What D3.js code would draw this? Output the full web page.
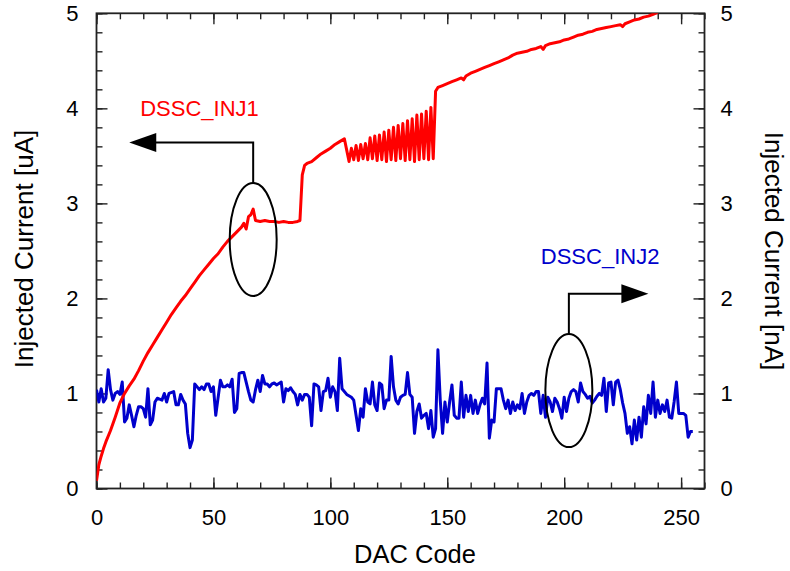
<!DOCTYPE html>
<html>
<head>
<meta charset="utf-8">
<script src="https://cdn.jsdelivr.net/npm/d3@7"></script>
<style>
  body { margin: 0; background: #fff; }
  svg text { font-family: "Liberation Sans", Arial, sans-serif; }
</style>
</head>
<body>
<div id="chart"></div>
<script>
// DSSC_INJ1 (uA, left axis)
const redCodes = [0,1,2,3,4,6,8,10,12,14,16,18,20,22,24,26,28,30,32,34,36,38,40,42,44,46,48,50,52,54,56,58,60,62,63,64,65,66,67,68,70,72,74,76,78,80,82,84,86,87,88,89,90,92,94,96,98,100,102,104,106,
  107,108,109,110,111,112,113,114,115,116,117,118,119,120,121,122,123,124,125,126,127,128,129,130,131,132,133,134,135,136,137,138,139,140,141,142,143,144,145,146,
  148,150,152,154,156,157,158,160,162,164,166,168,170,172,174,176,178,180,182,184,186,188,190,191,192,194,196,198,200,202,204,206,208,210,212,214,216,218,220,222,224,225,226,228,230,232,234,236,238,240];
const redValues = [0.08,0.25,0.34,0.42,0.49,0.61,0.75,0.90,1.00,1.08,1.15,1.24,1.34,1.43,1.51,1.59,1.67,1.75,1.83,1.90,1.97,2.03,2.10,2.17,2.24,2.30,2.36,2.42,2.47,2.54,2.60,2.65,2.70,2.75,2.79,2.73,2.86,2.88,2.94,2.82,2.81,2.82,2.81,2.81,2.80,2.81,2.80,2.80,2.81,2.82,3.30,3.40,3.42,3.44,3.48,3.52,3.55,3.58,3.62,3.65,3.68,
  3.56,3.44,3.58,3.46,3.61,3.45,3.62,3.47,3.63,3.46,3.69,3.47,3.71,3.45,3.72,3.46,3.75,3.44,3.77,3.46,3.80,3.45,3.82,3.47,3.84,3.45,3.87,3.46,3.89,3.44,3.93,3.46,3.94,3.47,3.97,3.46,4.01,3.47,4.18,4.22,
  4.24,4.26,4.28,4.30,4.32,4.30,4.34,4.37,4.39,4.41,4.43,4.45,4.47,4.49,4.51,4.53,4.56,4.58,4.59,4.60,4.62,4.63,4.65,4.62,4.66,4.68,4.69,4.70,4.72,4.73,4.75,4.77,4.78,4.80,4.81,4.83,4.84,4.85,4.86,4.87,4.88,4.86,4.89,4.91,4.93,4.94,4.96,4.97,4.99,5.01];

// DSSC_INJ2 (nA, right axis)
const blueCodes = [0,1,2,3,4,5,6,7,8,9,10,11,12,13,14,15,16,17,18,19,20,21,22,23,24,25,26,27,28,29,30,31,33,34,35,36,37,38,39,40,41,42,44,45,46,47,48,49,50,51,53,54,55,56,57,58,59,60,61,62,63,65,66,67,68,69,70,71,72,73,74,75,76,77,79,80,81,82,83,84,85,86,87,88,89,90,91,92,93,94,95,96,97,98,99,
  100,101,102,103,104,105,107,109,110,111,112,113,114,115,116,117,118,119,120,121,122,123,124,125,126,127,128,129,130,131,132,133,134,135,136,137,138,139,140,141,142,143,144,145,146,147,148,149,150,151,152,153,154,155,156,157,158,159,160,161,162,163,164,165,
  166,167,168,169,170,171,173,174,175,176,177,178,179,180,181,182,183,184,185,186,187,188,189,190,191,192,193,194,195,196,197,198,199,200,201,202,203,204,205,206,207,208,209,210,
  211,212,213,214,215,216,217,218,219,220,221,222,223,224,225,226,227,228,229,230,231,232,233,234,235,236,237,238,239,240,241,242,243,244,245,246,247,248,249,250,251,252,253,254,255];
const blueValues = [1.04,0.91,1.05,0.91,0.95,1.25,1.04,0.93,1.00,1.02,0.99,1.12,0.70,0.74,0.88,0.77,0.65,0.77,0.86,0.86,0.84,0.75,1.05,0.67,0.72,0.91,0.95,0.94,0.93,1.00,0.91,1.00,1.02,0.88,0.88,0.99,0.93,0.89,0.58,0.43,0.51,1.10,1.04,1.07,1.04,1.10,1.10,1.02,1.07,0.77,1.14,1.07,1.07,1.09,1.07,1.15,0.80,0.84,1.21,1.22,1.22,1.02,0.93,0.91,1.04,1.14,1.02,1.19,1.10,1.10,1.07,1.10,1.11,1.09,1.12,0.91,1.05,1.03,1.06,1.02,0.99,0.88,0.99,0.93,0.99,0.99,0.96,0.66,1.10,1.09,1.07,0.82,1.02,1.03,1.16,
  0.96,1.07,1.02,0.82,1.37,1.05,0.99,0.96,0.93,0.77,0.61,0.84,0.75,1.05,0.91,0.89,1.12,0.88,0.82,1.11,1.09,0.84,0.93,0.93,1.39,1.07,0.93,0.89,0.96,0.98,0.99,1.22,0.99,0.96,0.58,0.81,0.89,0.74,0.77,0.79,0.63,0.82,0.54,0.63,1.46,0.93,0.58,0.91,0.70,0.91,1.09,0.77,0.74,0.74,1.12,0.75,0.98,0.81,0.98,0.79,0.93,0.79,0.88,0.95,
  0.89,1.32,0.53,0.72,0.70,1.05,1.05,0.93,0.84,0.93,0.79,0.91,0.82,0.88,0.84,1.00,0.79,0.91,0.98,1.00,0.98,1.02,1.02,0.79,0.98,0.75,0.96,0.91,0.81,0.95,0.91,0.84,0.74,0.96,0.81,0.95,1.02,1.04,1.02,0.91,1.11,1.02,0.99,0.95,
  0.97,0.90,0.93,0.97,1.00,0.98,1.16,0.81,1.11,1.12,0.88,1.12,1.14,1.04,0.90,0.79,0.58,0.65,0.47,0.72,0.51,0.75,0.54,0.86,0.68,0.98,0.79,1.12,0.75,0.93,0.79,0.88,0.81,0.93,0.75,0.74,0.91,1.12,0.79,0.79,0.79,0.77,0.54,0.60,0.60];

const xMajorTicks = [0, 50, 100, 150, 200, 250];
const yMajorTicks = [0, 1, 2, 3, 4, 5];

const width = 790, height = 571;
const margin = { top: 13.3, right: 85.5, bottom: 82.5, left: 96.5 };
const innerWidth = width - margin.left - margin.right;
const innerHeight = height - margin.top - margin.bottom;

const svg = d3.select("#chart").append("svg")
  .attr("width", width)
  .attr("height", height);

const g = svg.append("g")
  .attr("transform", `translate(${margin.left},${margin.top})`);

const x = d3.scaleLinear().domain([0, 260]).range([0, innerWidth]);
const y = d3.scaleLinear().domain([0, 5]).range([innerHeight, 0]);
const yR = d3.scaleLinear().domain([0, 5]).range([innerHeight, 0]);

const minorX = d3.range(0, 261, 10);
const minorY = d3.range(0, 5.01, 0.2);
const fmt = d3.format("d");

// tick-only axes (minor everywhere, major on top), pointing inward
function tickOnly(axis, transform) {
  const a = g.append("g");
  if (transform) a.attr("transform", transform);
  a.call(axis);
  a.selectAll("text").remove();
}
tickOnly(d3.axisBottom(x).tickValues(minorX).tickSize(-6), `translate(0,${innerHeight})`);
tickOnly(d3.axisTop(x).tickValues(minorX).tickSize(-6));
tickOnly(d3.axisLeft(y).tickValues(minorY).tickSize(-6));
tickOnly(d3.axisRight(yR).tickValues(minorY).tickSize(-6), `translate(${innerWidth},0)`);
tickOnly(d3.axisTop(x).tickValues(xMajorTicks).tickSize(-11));

// major ticks + labels
function labelAxis(axis, transform) {
  const a = g.append("g");
  if (transform) a.attr("transform", transform);
  a.call(axis)
    .attr("font-size", 22)
    .attr("font-family", "'Liberation Sans', Arial, sans-serif");
  a.selectAll("text").attr("fill", "#000");
}
labelAxis(d3.axisBottom(x).tickValues(xMajorTicks).tickSize(-11).tickPadding(21).tickFormat(fmt),
  `translate(0,${innerHeight})`);
labelAxis(d3.axisLeft(y).tickValues(yMajorTicks).tickSize(-11).tickPadding(18).tickFormat(fmt));
labelAxis(d3.axisRight(yR).tickValues(yMajorTicks).tickSize(-11).tickPadding(16).tickFormat(fmt),
  `translate(${innerWidth},0)`);

g.selectAll(".domain").remove();
g.selectAll(".tick line").attr("stroke", "#222").attr("stroke-width", 1.4);

// frame
g.append("rect")
  .attr("width", innerWidth)
  .attr("height", innerHeight)
  .attr("fill", "none")
  .attr("stroke", "#222")
  .attr("stroke-width", 1.8);

g.append("clipPath").attr("id", "plot-clip")
  .append("rect").attr("width", innerWidth).attr("height", innerHeight);

const redData = redCodes.map((c, i) => ({ c, v: redValues[i] }));
const blueData = blueCodes.map((c, i) => ({ c, v: blueValues[i] }));

g.append("path")
  .datum(blueData)
  .attr("clip-path", "url(#plot-clip)")
  .attr("fill", "none")
  .attr("stroke", "#0000cc")
  .attr("stroke-width", 3)
  .attr("stroke-linejoin", "round")
  .attr("d", d3.line().x(d => x(d.c)).y(d => yR(d.v)));

g.append("path")
  .datum(redData)
  .attr("clip-path", "url(#plot-clip)")
  .attr("fill", "none")
  .attr("stroke", "#ff0000")
  .attr("stroke-width", 3)
  .attr("stroke-linejoin", "round")
  .attr("d", d3.line().x(d => x(d.c)).y(d => y(d.v)));

// annotations: ellipse + bent arrow + label
function annotate(o) {
  const cx = x(o.code), cy = o.scale(o.val);
  g.append("ellipse")
    .attr("cx", cx).attr("cy", cy)
    .attr("rx", 23.5).attr("ry", 56.5)
    .attr("fill", "none").attr("stroke", "#000").attr("stroke-width", 2);
  const top = cy - 56.5;
  const ay = o.scale(o.arrowVal);
  const tip = x(o.tipCode);
  const dir = tip < cx ? 1 : -1;
  g.append("path")
    .attr("d", `M${cx},${top}V${ay}H${tip + dir * 25}`)
    .attr("fill", "none").attr("stroke", "#000").attr("stroke-width", 2);
  g.append("path")
    .attr("d", `M${tip},${ay}L${tip + dir * 27},${ay - 9.5}L${tip + dir * 27},${ay + 9.5}Z`)
    .attr("fill", "#000");
  g.append("text")
    .attr("x", x(o.textCode)).attr("y", o.scale(o.textVal))
    .attr("fill", o.color)
    .attr("font-size", "22px")
    .text(o.label);
}

annotate({ code: 67, val: 2.62, scale: y, arrowVal: 3.64, tipCode: 14,
  textCode: 18.7, textVal: 3.92, color: "#ff0000", label: "DSSC_INJ1" });
annotate({ code: 202, val: 1.03, scale: yR, arrowVal: 2.05, tipCode: 236,
  textCode: 190, textVal: 2.36, color: "#0000cc", label: "DSSC_INJ2" });

// axis titles
svg.append("text")
  .attr("x", 415).attr("y", 563)
  .attr("text-anchor", "middle")
  .attr("font-size", "25.5px")
  .text("DAC Code");

svg.append("text")
  .attr("transform", "translate(33,249) rotate(-90)")
  .attr("text-anchor", "middle")
  .attr("font-size", "26px")
  .text("Injected Current [uA]");

svg.append("text")
  .attr("transform", "translate(765,251) rotate(90)")
  .attr("text-anchor", "middle")
  .attr("font-size", "26px")
  .text("Injected Current [nA]");
</script>
</body>
</html>
